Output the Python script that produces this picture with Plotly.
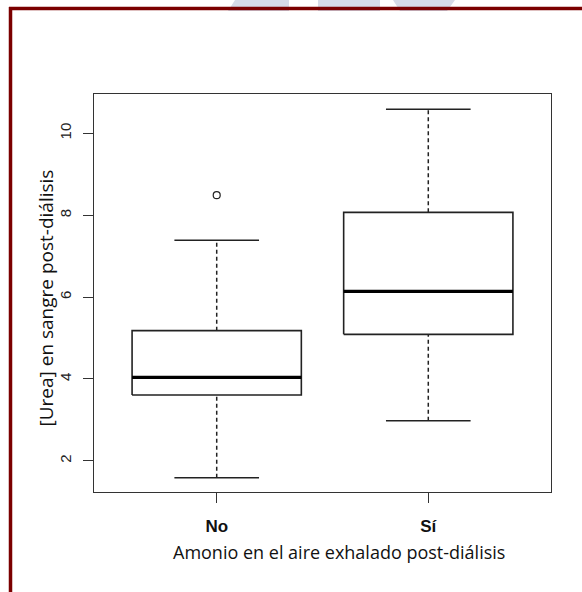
import plotly.graph_objects as go

# ---- data ----
categories = ["No", "Sí"]
positions = [1, 2]
whisker_low = [1.59, 2.98]
q1 = [3.61, 5.09]
median = [4.04, 6.14]
q3 = [5.18, 8.07]
whisker_high = [7.39, 10.59]
outlier_x = [1]
outlier_y = [8.49]
y_ticks = [2, 4, 6, 8, 10]

W, H = 582, 592
ML, MR, MT, MB = 94, 31, 94, 100
PW, PH = W - ML - MR, H - MT - MB

BOX_HALF = 0.4
CAP_HALF = 0.2
LINE = "#222222"

fig = go.Figure()

# dashed whiskers
wx, wy = [], []
for p, lo, a, b, hi in zip(positions, whisker_low, q1, q3, whisker_high):
    wx += [p, p, None, p, p, None]
    wy += [lo, a, None, b, hi, None]
fig.add_trace(go.Scatter(x=wx, y=wy, mode="lines",
                         line=dict(color=LINE, width=1.5, dash="4px,3px"),
                         hoverinfo="skip", showlegend=False))

# whisker caps
cx, cy = [], []
for p, lo, hi in zip(positions, whisker_low, whisker_high):
    cx += [p - CAP_HALF, p + CAP_HALF, None, p - CAP_HALF, p + CAP_HALF, None]
    cy += [lo, lo, None, hi, hi, None]
fig.add_trace(go.Scatter(x=cx, y=cy, mode="lines",
                         line=dict(color=LINE, width=1.5),
                         hoverinfo="skip", showlegend=False))

# boxes
bx, by = [], []
for p, a, b in zip(positions, q1, q3):
    bx += [p - BOX_HALF, p + BOX_HALF, p + BOX_HALF, p - BOX_HALF, p - BOX_HALF, None]
    by += [a, a, b, b, a, None]
fig.add_trace(go.Scatter(x=bx, y=by, mode="lines",
                         line=dict(color=LINE, width=1.6),
                         hoverinfo="skip", showlegend=False))

# medians
mx, my = [], []
for p, m in zip(positions, median):
    mx += [p - BOX_HALF, p + BOX_HALF, None]
    my += [m, m, None]
fig.add_trace(go.Scatter(x=mx, y=my, mode="lines",
                         line=dict(color="#000000", width=3.4),
                         hoverinfo="skip", showlegend=False))

# outliers
fig.add_trace(go.Scatter(x=outlier_x, y=outlier_y, mode="markers",
                         marker=dict(symbol="circle-open", size=7,
                                     color=LINE, line=dict(width=1.2)),
                         hoverinfo="skip", showlegend=False))


def px2paper(x, y):
    return (x - ML) / PW, (H - MB - y) / PH


def path(points):
    pts = [px2paper(x, y) for x, y in points]
    return "M " + " L ".join(f"{x:.5f},{y:.5f}" for x, y in pts) + " Z"


shapes = []
# faint watermark pieces at the top
for poly in [
    [(235, 0), (289, 0), (289, 11), (228, 11)],
    [(318, 0), (380, 0), (380, 11), (318, 11)],
    [(393, 0), (455, 0), (447, 11), (400, 11)],
]:
    shapes.append(dict(type="path", xref="paper", yref="paper", path=path(poly),
                       fillcolor="#d6dbe8", line=dict(width=0), layer="below"))
# dark red frame (top and left)
x0, y0 = px2paper(9, 8.5)
x1, _ = px2paper(585, 8.5)
shapes.append(dict(type="line", xref="paper", yref="paper", x0=x0, y0=y0, x1=x1, y1=y0,
                   line=dict(color="#7b0000", width=3.5)))
lx, ly0 = px2paper(10.5, 7)
_, ly1 = px2paper(10.5, 595)
shapes.append(dict(type="line", xref="paper", yref="paper", x0=lx, y0=ly0, x1=lx, y1=ly1,
                   line=dict(color="#7b0000", width=3.5)))

ax_x, _ = px2paper(338.5, 0)
_, ax_y = px2paper(0, 552)
ay_x, _ = px2paper(45, 0)
_, ay_y = px2paper(0, 298.5)

fig.update_layout(
    width=W, height=H,
    margin=dict(l=ML, r=MR, t=MT, b=MB),
    paper_bgcolor="white", plot_bgcolor="white",
    showlegend=False,
    shapes=shapes,
    xaxis=dict(range=[0.42, 2.58], tickmode="array", tickvals=positions,
               ticktext=[f"<b>{c}</b>" for c in categories],
               ticks="outside", ticklen=10, tickwidth=1, tickcolor="#333333",
               showline=True, mirror=True, linecolor="#333333", linewidth=1.2,
               showgrid=False, zeroline=False, ticklabelstandoff=8,
               tickfont=dict(family="Liberation Sans, Arial, sans-serif", size=17, color="#111111")),
    yaxis=dict(range=[1.24, 10.96], tickmode="array", tickvals=y_ticks,
               ticktext=[str(t) for t in y_ticks], tickangle=-90,
               ticks="outside", ticklen=10, tickwidth=1, tickcolor="#333333",
               showline=True, mirror=True, linecolor="#333333", linewidth=1.2,
               showgrid=False, zeroline=False, ticklabelstandoff=6,
               tickfont=dict(family="Liberation Sans, Arial, sans-serif", size=15, color="#222222")),
    annotations=[
        dict(text="Amonio en el aire exhalado post-diálisis", xref="paper", yref="paper",
             x=ax_x, y=ax_y, xanchor="center", yanchor="middle", showarrow=False,
             font=dict(family="Open Sans, sans-serif", size=18, color="#111111")),
        dict(text="[Urea] en sangre post-diálisis", xref="paper", yref="paper",
             x=ay_x, y=ay_y, xanchor="center", yanchor="middle", showarrow=False,
             textangle=-90,
             font=dict(family="Open Sans, sans-serif", size=19, color="#111111")),
    ],
)

fig.write_html("out.html", config={"displayModeBar": False},
               post_script="document.body.style.margin='0';document.body.style.overflow='hidden';")
